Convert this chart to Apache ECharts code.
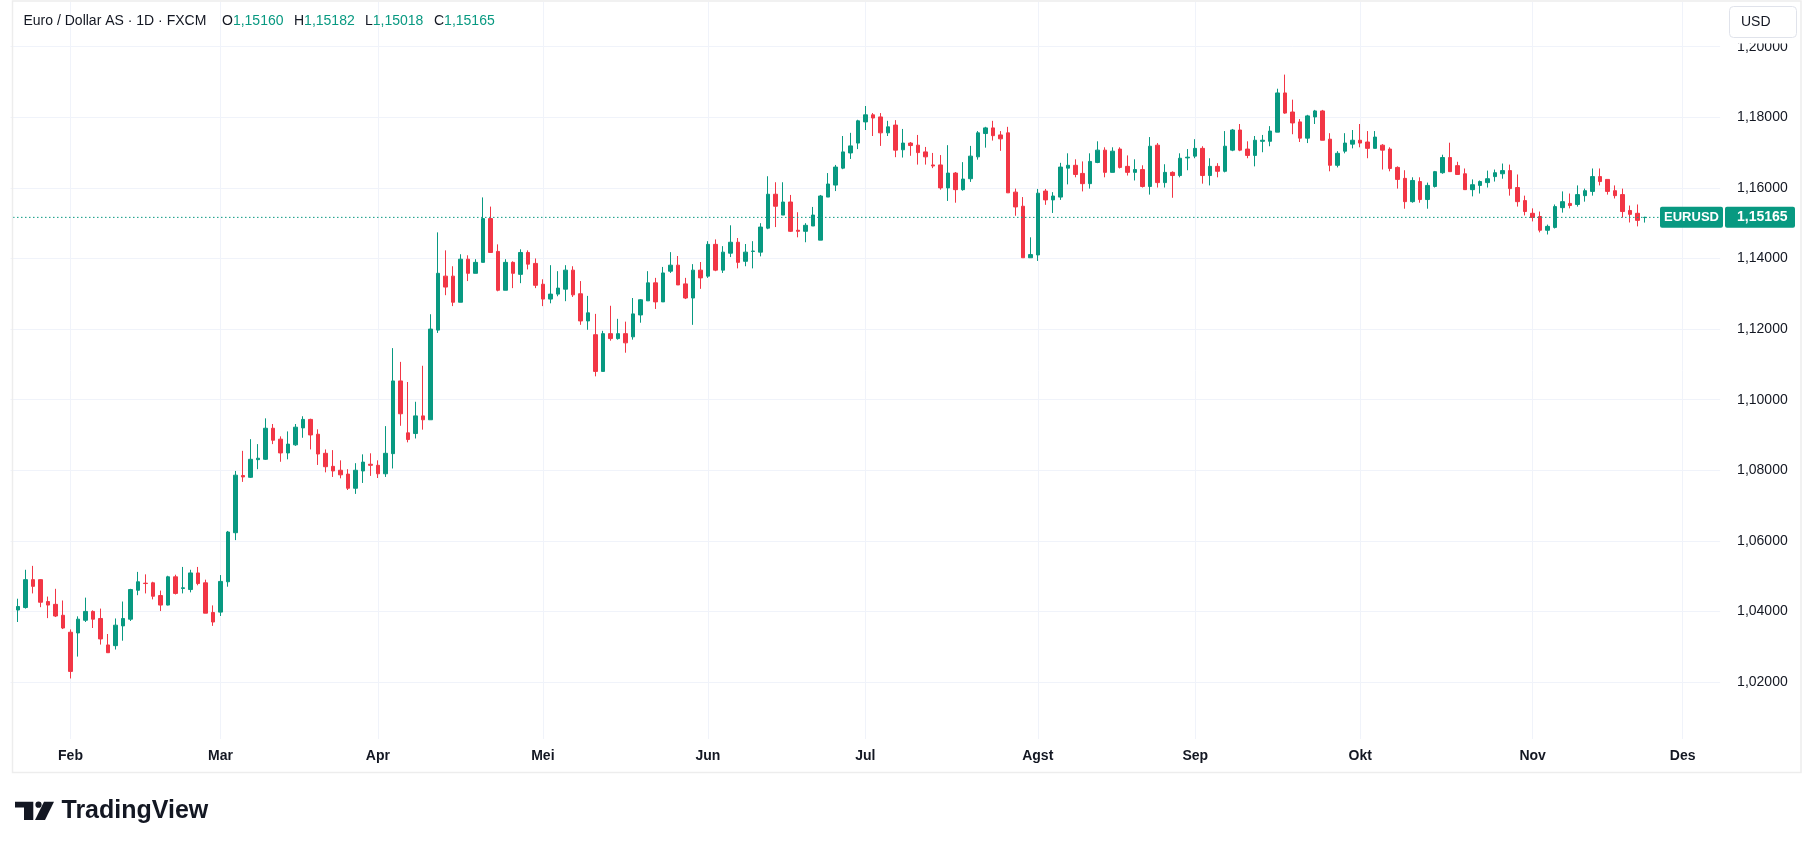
<!DOCTYPE html>
<html>
<head>
<meta charset="utf-8">
<script src="https://cdn.jsdelivr.net/npm/echarts@6/dist/echarts.min.js"></script>
<style>
html,body{margin:0;padding:0;background:#ffffff;}
#c{width:1813px;height:848px;}
</style>
</head>
<body>
<div id="c"></div>
<script>
// ---------- labels / ticks ----------
const monthNames = ['Jan','Feb','Mar','Apr','Mei','Jun','Jul','Agst','Sep','Okt','Nov','Des'];
const priceTicks = [1.02,1.04,1.06,1.08,1.10,1.12,1.14,1.16,1.18,1.20];
const symbolTitle = 'Euro / Dollar AS · 1D · FXCM';
const lastOpen = '1,15160', lastHigh = '1,15182', lastLow = '1,15018', lastClose = '1,15165';
const lastPrice = 1.15165;
const symbolName = 'EURUSD';
const currency = 'USD';

// ---------- daily candles [open, close, low, high] ----------
const jan = [
[1.0404,1.0414,1.0370,1.0436],[1.0411,1.0490,1.0408,1.0518],[1.0490,1.0471,1.0451,1.0529],
[1.0490,1.0426,1.0412,1.0491],[1.0428,1.0418,1.0381,1.0442],[1.0420,1.0387,1.0384,1.0464],
[1.0389,1.0353,1.0350,1.0431]];
const feb = [
[1.0341,1.0230,1.0210,1.0349],[1.0339,1.0378,1.0272,1.0386],[1.0375,1.0400,1.0370,1.0439],
[1.0400,1.0378,1.0353,1.0403],[1.0380,1.0322,1.0306,1.0408],[1.0305,1.0283,1.0283,1.0336],
[1.0303,1.0361,1.0292,1.0380],[1.0359,1.0380,1.0317,1.0428],[1.0378,1.0462,1.0373,1.0464],
[1.0460,1.0484,1.0446,1.0512],[1.0480,1.0479,1.0451,1.0505],[1.0481,1.0443,1.0434,1.0484],
[1.0445,1.0418,1.0401,1.0459],[1.0418,1.0498,1.0417,1.0501],[1.0498,1.0451,1.0448,1.0504],
[1.0465,1.0467,1.0451,1.0526],[1.0462,1.0509,1.0454,1.0518],[1.0509,1.0479,1.0474,1.0526],
[1.0481,1.0395,1.0395,1.0490],[1.0397,1.0370,1.0359,1.0417]];
const mar = [
[1.0398,1.0485,1.0387,1.0503],[1.0484,1.0625,1.0470,1.0628],[1.0623,1.0786,1.0602,1.0798],
[1.0785,1.0781,1.0767,1.0855],[1.0780,1.0831,1.0778,1.0888],[1.0830,1.0834,1.0803,1.0874],
[1.0831,1.0919,1.0829,1.0947],[1.0919,1.0885,1.0874,1.0931],[1.0888,1.0849,1.0824,1.0896],
[1.0849,1.0874,1.0831,1.0910],[1.0872,1.0922,1.0869,1.0931],[1.0920,1.0944,1.0892,1.0953],
[1.0944,1.0900,1.0859,1.0946],[1.0902,1.0846,1.0815,1.0916],[1.0848,1.0810,1.0794,1.0859],
[1.0811,1.0798,1.0781,1.0857],[1.0800,1.0787,1.0777,1.0828],[1.0789,1.0749,1.0744,1.0803],
[1.0749,1.0800,1.0733,1.0820],[1.0798,1.0823,1.0764,1.0845],[1.0817,1.0814,1.0784,1.0848]];
const apr = [
[1.0814,1.0790,1.0778,1.0828],[1.0790,1.0848,1.0781,1.0925],[1.0847,1.1053,1.0805,1.1146],
[1.1053,1.0960,1.0926,1.1107],[1.0906,1.0887,1.0879,1.1050],[1.0904,1.0954,1.0890,1.0994],
[1.0954,1.0943,1.0915,1.1096],[1.0943,1.1200,1.0943,1.1242],[1.1197,1.1358,1.1189,1.1474],
[1.1350,1.1319,1.1296,1.1423],[1.1350,1.1276,1.1265,1.1378],[1.1276,1.1398,1.1276,1.1412],
[1.1398,1.1358,1.1336,1.1409],[1.1358,1.1389,1.1358,1.1398],[1.1389,1.1513,1.1389,1.1573],
[1.1513,1.1417,1.1417,1.1547],[1.1420,1.1310,1.1307,1.1440],[1.1310,1.1389,1.1310,1.1398],
[1.1389,1.1358,1.1316,1.1392],[1.1355,1.1417,1.1330,1.1426],[1.1417,1.1384,1.1369,1.1423],
[1.1386,1.1324,1.1316,1.1400]];
const may = [
[1.1327,1.1285,1.1265,1.1341],[1.1285,1.1299,1.1273,1.1381],[1.1299,1.1316,1.1293,1.1364],
[1.1313,1.1367,1.1279,1.1381],[1.1367,1.1297,1.1291,1.1378],[1.1300,1.1223,1.1212,1.1336],
[1.1223,1.1246,1.1198,1.1294],[1.1184,1.1080,1.1066,1.1243],[1.1080,1.1187,1.1080,1.1195],
[1.1187,1.1173,1.1167,1.1266],[1.1173,1.1187,1.1170,1.1229],[1.1187,1.1161,1.1133,1.1221],
[1.1178,1.1243,1.1170,1.1288],[1.1240,1.1283,1.1218,1.1285],[1.1280,1.1331,1.1280,1.1364],
[1.1331,1.1277,1.1257,1.1345],[1.1277,1.1359,1.1277,1.1376],[1.1364,1.1381,1.1359,1.1418],
[1.1381,1.1325,1.1325,1.1407],[1.1328,1.1288,1.1285,1.1345],[1.1288,1.1367,1.1212,1.1384],
[1.1367,1.1345,1.1314,1.1390]];
const jun = [
[1.1350,1.1440,1.1345,1.1449],[1.1440,1.1367,1.1364,1.1454],[1.1367,1.1418,1.1359,1.1435],
[1.1415,1.1446,1.1404,1.1494],[1.1446,1.1389,1.1372,1.1458],[1.1392,1.1418,1.1378,1.1441],
[1.1420,1.1421,1.1372,1.1449],[1.1418,1.1489,1.1406,1.1500],[1.1486,1.1582,1.1483,1.1633],
[1.1582,1.1548,1.1489,1.1616],[1.1523,1.1560,1.1523,1.1616],[1.1560,1.1477,1.1475,1.1580],
[1.1480,1.1477,1.1460,1.1531],[1.1477,1.1494,1.1446,1.1500],[1.1492,1.1523,1.1492,1.1546],
[1.1452,1.1577,1.1452,1.1580],[1.1574,1.1611,1.1574,1.1642],[1.1608,1.1659,1.1591,1.1665],
[1.1656,1.1702,1.1653,1.1747],[1.1699,1.1719,1.1682,1.1756],[1.1727,1.1790,1.1710,1.1793]];
const jul = [
[1.1787,1.1807,1.1764,1.1832],[1.1807,1.1798,1.1747,1.1812],[1.1801,1.1756,1.1719,1.1812],
[1.1756,1.1773,1.1747,1.1790],[1.1778,1.1707,1.1687,1.1792],[1.1708,1.1727,1.1686,1.1767],
[1.1727,1.1720,1.1691,1.1730],[1.1721,1.1700,1.1666,1.1750],[1.1702,1.1688,1.1666,1.1716],
[1.1665,1.1662,1.1656,1.1699],[1.1665,1.1600,1.1595,1.1693],[1.1600,1.1642,1.1563,1.1721],
[1.1642,1.1595,1.1558,1.1645],[1.1595,1.1625,1.1592,1.1673],[1.1626,1.1690,1.1617,1.1719],
[1.1688,1.1756,1.1680,1.1761],[1.1754,1.1770,1.1714,1.1773],[1.1770,1.1748,1.1734,1.1790],
[1.1750,1.1739,1.1705,1.1761],[1.1756,1.1586,1.1586,1.1773],[1.1588,1.1546,1.1521,1.1598],
[1.1548,1.1402,1.1402,1.1574],[1.1402,1.1411,1.1402,1.1460]];
const aug = [
[1.1410,1.1585,1.1393,1.1597],[1.1591,1.1566,1.1552,1.1597],[1.1566,1.1577,1.1529,1.1588],
[1.1574,1.1659,1.1566,1.1671],[1.1656,1.1664,1.1610,1.1698],[1.1664,1.1638,1.1630,1.1681],
[1.1641,1.1612,1.1590,1.1675],[1.1612,1.1675,1.1598,1.1698],[1.1672,1.1707,1.1670,1.1732],
[1.1707,1.1644,1.1630,1.1715],[1.1644,1.1704,1.1644,1.1715],[1.1710,1.1658,1.1655,1.1715],
[1.1661,1.1644,1.1635,1.1692],[1.1644,1.1652,1.1621,1.1681],[1.1652,1.1604,1.1601,1.1664],
[1.1604,1.1718,1.1581,1.1744],[1.1721,1.1615,1.1601,1.1727],[1.1615,1.1644,1.1601,1.1667],
[1.1644,1.1635,1.1572,1.1647],[1.1635,1.1684,1.1630,1.1698],[1.1685,1.1687,1.1650,1.1710]];
const sep = [
[1.1690,1.1712,1.1684,1.1738],[1.1712,1.1635,1.1612,1.1718],[1.1635,1.1661,1.1607,1.1684],
[1.1661,1.1647,1.1630,1.1670],[1.1647,1.1718,1.1644,1.1761],[1.1707,1.1764,1.1704,1.1767],
[1.1764,1.1707,1.1704,1.1781],[1.1710,1.1692,1.1684,1.1732],[1.1692,1.1735,1.1661,1.1747],
[1.1732,1.1735,1.1701,1.1750],[1.1732,1.1761,1.1718,1.1775],[1.1758,1.1869,1.1758,1.1881],
[1.1869,1.1812,1.1810,1.1921],[1.1815,1.1784,1.1752,1.1850],[1.1787,1.1741,1.1730,1.1795],
[1.1741,1.1804,1.1727,1.1807],[1.1801,1.1818,1.1781,1.1821],[1.1818,1.1735,1.1735,1.1821],
[1.1738,1.1664,1.1647,1.1755],[1.1664,1.1698,1.1658,1.1704],[1.1704,1.1727,1.1698,1.1755],
[1.1724,1.1735,1.1712,1.1764]];
const oct = [
[1.1735,1.1727,1.1715,1.1781],[1.1730,1.1712,1.1684,1.1761],[1.1712,1.1744,1.1712,1.1761],
[1.1721,1.1707,1.1652,1.1724],[1.1710,1.1655,1.1647,1.1715],[1.1658,1.1624,1.1598,1.1661],
[1.1627,1.1561,1.1541,1.1650],[1.1561,1.1621,1.1558,1.1630],[1.1618,1.1567,1.1558,1.1630],
[1.1567,1.1607,1.1541,1.1615],[1.1604,1.1646,1.1601,1.1648],[1.1643,1.1686,1.1640,1.1694],
[1.1686,1.1646,1.1646,1.1728],[1.1663,1.1638,1.1638,1.1674],[1.1640,1.1595,1.1595,1.1655],
[1.1595,1.1609,1.1576,1.1624],[1.1607,1.1618,1.1584,1.1621],[1.1615,1.1626,1.1601,1.1649],
[1.1632,1.1643,1.1618,1.1652],[1.1640,1.1649,1.1626,1.1669],[1.1649,1.1598,1.1578,1.1666],
[1.1601,1.1561,1.1547,1.1638],[1.1564,1.1533,1.1522,1.1578]];
const nov = [
[1.1528,1.1516,1.1505,1.1542],[1.1519,1.1480,1.1474,1.1533],[1.1480,1.1491,1.1468,1.1496],
[1.1488,1.1547,1.1485,1.1553],[1.1544,1.1561,1.1530,1.1590],[1.1556,1.1550,1.1542,1.1584],
[1.1553,1.1581,1.1547,1.1607],[1.1578,1.1592,1.1561,1.1598],[1.1590,1.1632,1.1578,1.1655],
[1.1632,1.1618,1.1607,1.1655],[1.1624,1.1590,1.1581,1.1624],[1.1592,1.1578,1.1570,1.1607],
[1.1581,1.1533,1.1516,1.1598],[1.1536,1.1525,1.1502,1.1550],[1.1528,1.1508,1.1491,1.1553],
[1.15160,1.15165,1.15018,1.15182]];

// ---------- calendar (weekday trading days) ----------
const firstDay = '2025-01-22';   // one empty slot before the first candle
const lastDay  = '2025-12-08';   // empty future slots after the last candle
const categories = [];
for (let t = Date.parse(firstDay); t <= Date.parse(lastDay); t += 86400000) {
  const d = new Date(t).getUTCDay();
  if (d !== 0 && d !== 6) categories.push(new Date(t).toISOString().slice(0,10));
}
const isMonthStart = categories.map((c,i) => i > 0 && c.slice(5,7) !== categories[i-1].slice(5,7));

const candles = [].concat(jan, feb, mar, apr, may, jun, jul, aug, sep, oct, nov);
const seriesData = [['-','-','-','-']].concat(candles);

const UP = '#089981', DOWN = '#F23645', TXT = '#131722', GRID = '#f0f3fa';
const FONT = '"Liberation Sans", Arial, sans-serif';
const fmt = v => v.toFixed(5).replace('.', ',');

const chart = echarts.init(document.getElementById('c'), null, {renderer: 'canvas', width: 1813, height: 848});

chart.setOption({
  animation: false,
  backgroundColor: '#ffffff',
  textStyle: {fontFamily: FONT},
  grid: {left: 10.5, right: 92.9, top: 2, bottom: 109, containLabel: false},
  xAxis: {
    type: 'category',
    data: categories,
    boundaryGap: false,
    axisLine: {show: false},
    axisTick: {show: false},
    axisLabel: {
      interval: (i) => isMonthStart[i],
      formatter: (v) => monthNames[parseInt(v.slice(5,7), 10) - 1],
      color: TXT, fontSize: 14, fontWeight: 'bold', margin: 10, fontFamily: FONT
    },
    splitLine: {show: true, interval: (i) => isMonthStart[i], lineStyle: {color: GRID, width: 1}}
  },
  yAxis: {
    type: 'value',
    position: 'right',
    min: 1.00385,
    max: 1.21267,
    axisLine: {show: false},
    axisTick: {show: false, customValues: priceTicks},
    axisLabel: {customValues: priceTicks, formatter: fmt, color: TXT, fontSize: 14, margin: 17, align: 'left', fontFamily: FONT},
    splitLine: {show: true, lineStyle: {color: GRID, width: 1}}
  },
  series: [{
    type: 'candlestick',
    data: seriesData,
    barWidth: 4,
    itemStyle: {color: UP, color0: DOWN, borderColor: UP, borderColor0: DOWN, borderWidth: 1}
  }]
});

const yLast = chart.convertToPixel({yAxisIndex: 0}, lastPrice);

chart.setOption({
  graphic: [
    // last price dotted line
    {type: 'line', z: 40, silent: true, shape: {x1: 13, y1: yLast, x2: 1660, y2: yLast},
     style: {stroke: UP, lineWidth: 1, lineDash: [1.5, 2.5]}},
    // widget border
    {type: 'rect', z: 50, silent: true, shape: {x: 12.5, y: 1, width: 1788.5, height: 771.5},
     style: {fill: 'none', stroke: '#ededed', lineWidth: 1.5}},
    // header
    {type: 'text', z: 60, x: 23.5, y: 21, style: {text: symbolTitle, fill: TXT, font: '14px ' + FONT, textVerticalAlign: 'middle'}},
    {type: 'text', z: 60, x: 222, y: 21, style: {text: '{k|O}{v|' + lastOpen + '}', font: '14px ' + FONT, textVerticalAlign: 'middle',
      rich: {k: {fill: TXT, font: '14px ' + FONT}, v: {fill: UP, font: '14px ' + FONT}}}},
    {type: 'text', z: 60, x: 294, y: 21, style: {text: '{k|H}{v|' + lastHigh + '}', font: '14px ' + FONT, textVerticalAlign: 'middle',
      rich: {k: {fill: TXT, font: '14px ' + FONT}, v: {fill: UP, font: '14px ' + FONT}}}},
    {type: 'text', z: 60, x: 365, y: 21, style: {text: '{k|L}{v|' + lastLow + '}', font: '14px ' + FONT, textVerticalAlign: 'middle',
      rich: {k: {fill: TXT, font: '14px ' + FONT}, v: {fill: UP, font: '14px ' + FONT}}}},
    {type: 'text', z: 60, x: 434, y: 21, style: {text: '{k|C}{v|' + lastClose + '}', font: '14px ' + FONT, textVerticalAlign: 'middle',
      rich: {k: {fill: TXT, font: '14px ' + FONT}, v: {fill: UP, font: '14px ' + FONT}}}},
    // currency button (with white pane-top strip over the price scale)
    {type: 'rect', z: 59, silent: true, shape: {x: 1724, y: 2, width: 76, height: 41.5}, style: {fill: '#ffffff'}},
    {type: 'rect', z: 60, shape: {x: 1729.5, y: 6.5, width: 67, height: 31, r: 4},
     style: {fill: '#ffffff', stroke: '#e0e3eb', lineWidth: 1}},
    {type: 'text', z: 61, x: 1741, y: 22, style: {text: currency, fill: TXT, font: '14px ' + FONT, textVerticalAlign: 'middle'}},
    // last price labels
    {type: 'rect', z: 60, shape: {x: 1660, y: yLast - 10.5, width: 63, height: 21, r: 2}, style: {fill: UP}},
    {type: 'text', z: 61, x: 1691.5, y: yLast, style: {text: symbolName, fill: '#ffffff', font: 'bold 13px ' + FONT, textAlign: 'center', textVerticalAlign: 'middle'}},
    {type: 'rect', z: 60, shape: {x: 1725, y: yLast - 10.5, width: 70, height: 21, r: 2}, style: {fill: UP}},
    {type: 'text', z: 61, x: 1737, y: yLast, style: {text: fmt(lastPrice), fill: '#ffffff', font: 'bold 14px ' + FONT, textVerticalAlign: 'middle'}},
    // TradingView logo
    {type: 'polygon', z: 60, shape: {points: [[15,801.7],[33.3,801.7],[33.3,820],[24,820],[24,807.5],[15,807.5]]}, style: {fill: TXT}},
    {type: 'circle', z: 60, shape: {cx: 38.5, cy: 804.7, r: 3.1}, style: {fill: TXT}},
    {type: 'polygon', z: 60, shape: {points: [[44,801.7],[54,801.7],[45,820],[35,820]]}, style: {fill: TXT}},
    {type: 'text', z: 60, x: 61.5, y: 811, style: {text: 'TradingView', fill: TXT, font: 'bold 25px ' + FONT, textVerticalAlign: 'middle'}}
  ]
});
</script>
</body>
</html>
